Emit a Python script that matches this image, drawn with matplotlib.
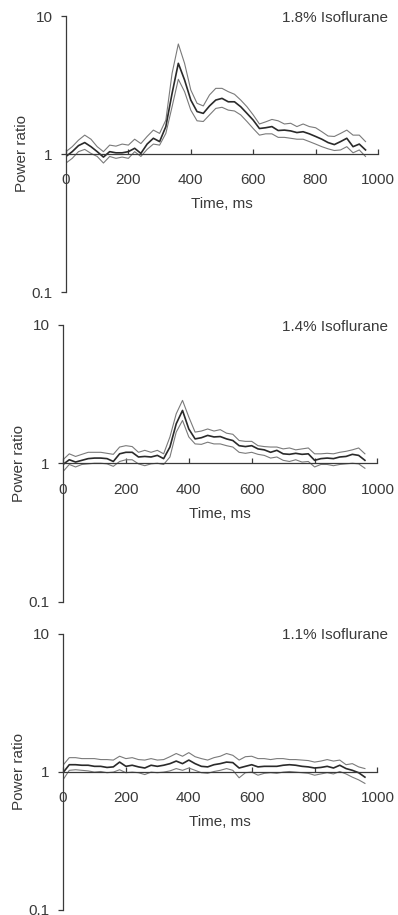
import numpy as np
import matplotlib
matplotlib.use('Agg')
import matplotlib.pyplot as plt

plt.rcParams['font.family'] = ['Liberation Sans', 'DejaVu Sans']

# time axis, ms
t = np.arange(0, 961, 20)

# 1.8% isoflurane
iso18_mean = [0.96, 1.04, 1.15, 1.21, 1.13, 1.04, 0.95, 1.04, 1.02, 1.02,
              1.04, 1.10, 1.01, 1.18, 1.30, 1.23, 1.58, 2.75, 4.54, 3.44,
              2.46, 2.03, 1.97, 2.23, 2.46, 2.53, 2.39, 2.39, 2.20, 1.97,
              1.76, 1.53, 1.55, 1.58, 1.48, 1.49, 1.47, 1.43, 1.45, 1.40,
              1.34, 1.28, 1.21, 1.17, 1.23, 1.30, 1.13, 1.18, 1.07]
iso18_upper = [1.04, 1.13, 1.26, 1.37, 1.28, 1.13, 1.04, 1.16, 1.14, 1.18,
               1.16, 1.28, 1.19, 1.34, 1.49, 1.41, 1.76, 3.84, 6.27, 4.54,
               2.91, 2.33, 2.23, 2.68, 2.99, 2.99, 2.83, 2.71, 2.46, 2.20,
               1.92, 1.65, 1.71, 1.78, 1.74, 1.65, 1.67, 1.58, 1.65, 1.58,
               1.55, 1.45, 1.35, 1.34, 1.41, 1.49, 1.37, 1.37, 1.23]
iso18_lower = [0.86, 0.93, 1.04, 1.08, 1.01, 0.96, 0.86, 0.96, 0.93, 0.95,
               0.93, 1.04, 0.96, 1.08, 1.18, 1.16, 1.41, 2.20, 3.48, 2.83,
               2.08, 1.74, 1.72, 1.92, 2.14, 2.18, 2.08, 2.05, 1.92, 1.72,
               1.53, 1.37, 1.40, 1.40, 1.32, 1.32, 1.30, 1.28, 1.28, 1.23,
               1.18, 1.13, 1.09, 1.06, 1.07, 1.13, 1.02, 1.07, 0.96]

# 1.4% isoflurane
iso14_mean = [0.98, 1.06, 1.02, 1.05, 1.08, 1.09, 1.09, 1.08, 1.03, 1.17,
              1.20, 1.20, 1.11, 1.12, 1.11, 1.14, 1.08, 1.31, 1.93, 2.41,
              1.77, 1.50, 1.53, 1.59, 1.55, 1.56, 1.50, 1.46, 1.34, 1.32,
              1.34, 1.27, 1.25, 1.20, 1.24, 1.17, 1.16, 1.18, 1.16, 1.17,
              1.05, 1.08, 1.09, 1.08, 1.11, 1.12, 1.16, 1.14, 1.05]
iso14_upper = [1.06, 1.17, 1.12, 1.16, 1.20, 1.20, 1.20, 1.18, 1.16, 1.31,
               1.34, 1.32, 1.20, 1.24, 1.20, 1.24, 1.17, 1.55, 2.28, 2.85,
               2.16, 1.68, 1.71, 1.77, 1.71, 1.75, 1.65, 1.62, 1.46, 1.44,
               1.44, 1.34, 1.32, 1.31, 1.31, 1.27, 1.29, 1.25, 1.27, 1.29,
               1.17, 1.17, 1.18, 1.17, 1.20, 1.22, 1.25, 1.29, 1.17]
iso14_lower = [0.87, 0.98, 0.94, 0.98, 0.99, 1.00, 1.00, 0.99, 0.95, 1.03,
               1.06, 1.06, 0.99, 0.96, 0.99, 1.00, 0.98, 1.11, 1.68, 2.04,
               1.55, 1.38, 1.37, 1.42, 1.38, 1.38, 1.34, 1.31, 1.20, 1.18,
               1.20, 1.16, 1.14, 1.09, 1.11, 1.05, 1.03, 1.06, 1.02, 1.03,
               0.94, 0.98, 0.98, 0.96, 0.98, 0.99, 1.00, 0.99, 0.92]

# 1.1% isoflurane
iso11_mean = [0.98, 1.12, 1.12, 1.11, 1.11, 1.09, 1.09, 1.07, 1.08, 1.17,
              1.09, 1.11, 1.08, 1.06, 1.11, 1.09, 1.11, 1.14, 1.19, 1.14,
              1.21, 1.14, 1.09, 1.08, 1.12, 1.14, 1.17, 1.16, 1.06, 1.09,
              1.12, 1.08, 1.09, 1.09, 1.09, 1.11, 1.12, 1.11, 1.09, 1.08,
              1.06, 1.07, 1.09, 1.06, 1.11, 1.05, 1.02, 0.98, 0.91]
iso11_upper = [1.11, 1.26, 1.26, 1.24, 1.24, 1.24, 1.22, 1.22, 1.21, 1.29,
               1.24, 1.26, 1.22, 1.21, 1.24, 1.21, 1.22, 1.28, 1.35, 1.29,
               1.37, 1.28, 1.24, 1.21, 1.26, 1.29, 1.35, 1.31, 1.21, 1.28,
               1.29, 1.24, 1.24, 1.22, 1.24, 1.24, 1.22, 1.22, 1.21, 1.20,
               1.17, 1.19, 1.22, 1.19, 1.21, 1.12, 1.14, 1.08, 1.05]
iso11_lower = [0.87, 1.02, 1.03, 1.02, 1.01, 0.99, 1.00, 0.98, 0.99, 1.03,
               0.98, 0.99, 0.98, 0.95, 0.99, 0.98, 0.99, 1.01, 1.05, 1.02,
               1.06, 1.02, 0.98, 0.97, 1.00, 1.02, 1.05, 1.02, 0.90, 0.98,
               0.99, 0.94, 0.97, 0.98, 0.97, 0.99, 1.00, 0.99, 0.98, 0.97,
               0.94, 0.96, 0.98, 0.96, 1.00, 0.96, 0.91, 0.87, 0.82]

titles = ['1.8% Isoflurane', '1.4% Isoflurane', '1.1% Isoflurane']
means = [iso18_mean, iso14_mean, iso11_mean]
uppers = [iso18_upper, iso14_upper, iso11_upper]
lowers = [iso18_lower, iso14_lower, iso11_lower]

W, H = 398, 915
fig = plt.figure(figsize=(W / 100, H / 100), dpi=100)

# axes boxes in pixels: left, top, right, bottom
boxes = [(66, 16, 378, 292), (63, 325, 377.5, 601.5), (63, 633.5, 377.5, 909.5)]
title_y = [18, 327, 635]

axis_col = '#3a3a3a'
text_col = '#3a3a3a'
fs = 11

for i in range(3):
    l, tp, r, b = boxes[i]
    ax = fig.add_axes([l / W, 1 - b / H, (r - l) / W, (b - tp) / H])
    ax.plot(t, uppers[i], color='#7a7a7a', lw=0.8)
    ax.plot(t, lowers[i], color='#7a7a7a', lw=0.8)
    ax.plot(t, means[i], color='#2a2a2a', lw=1.2)

    ax.set_yscale('log')
    ax.set_ylim(0.1, 10)
    ax.set_xlim(0, 1000)
    ax.set_yticks([0.1, 1, 10])
    ax.set_yticklabels(['0.1', '1', '10'])
    ax.yaxis.set_minor_locator(matplotlib.ticker.NullLocator())
    ax.set_xticks([0, 200, 400, 600, 800, 1000])

    for s in ['top', 'right']:
        ax.spines[s].set_visible(False)
    ax.spines['bottom'].set_position(('data', 1))
    ax.spines['bottom'].set_color(axis_col)
    ax.spines['left'].set_color(axis_col)
    ax.spines['bottom'].set_linewidth(0.9)
    ax.spines['left'].set_linewidth(0.9)

    ax.tick_params(axis='y', direction='out', length=3.5, width=0.9,
                   color=axis_col, labelcolor=text_col, labelsize=fs, pad=6)
    ax.tick_params(axis='x', direction='in', length=3.8, width=0.9,
                   color=axis_col, labelcolor=text_col, labelsize=fs, pad=14)

    ax.set_xlabel('Time, ms', fontsize=fs, color=text_col)
    ax.xaxis.set_label_coords(0.5, 0.343)
    ax.set_ylabel('Power ratio', fontsize=fs, color=text_col)
    ax.yaxis.set_label_coords(-0.118, 0.5)

    fig.text(388 / W, 1 - title_y[i] / H, titles[i], ha='right', va='center',
             fontsize=fs, color=text_col)

fig.savefig('out.png', dpi=100)
